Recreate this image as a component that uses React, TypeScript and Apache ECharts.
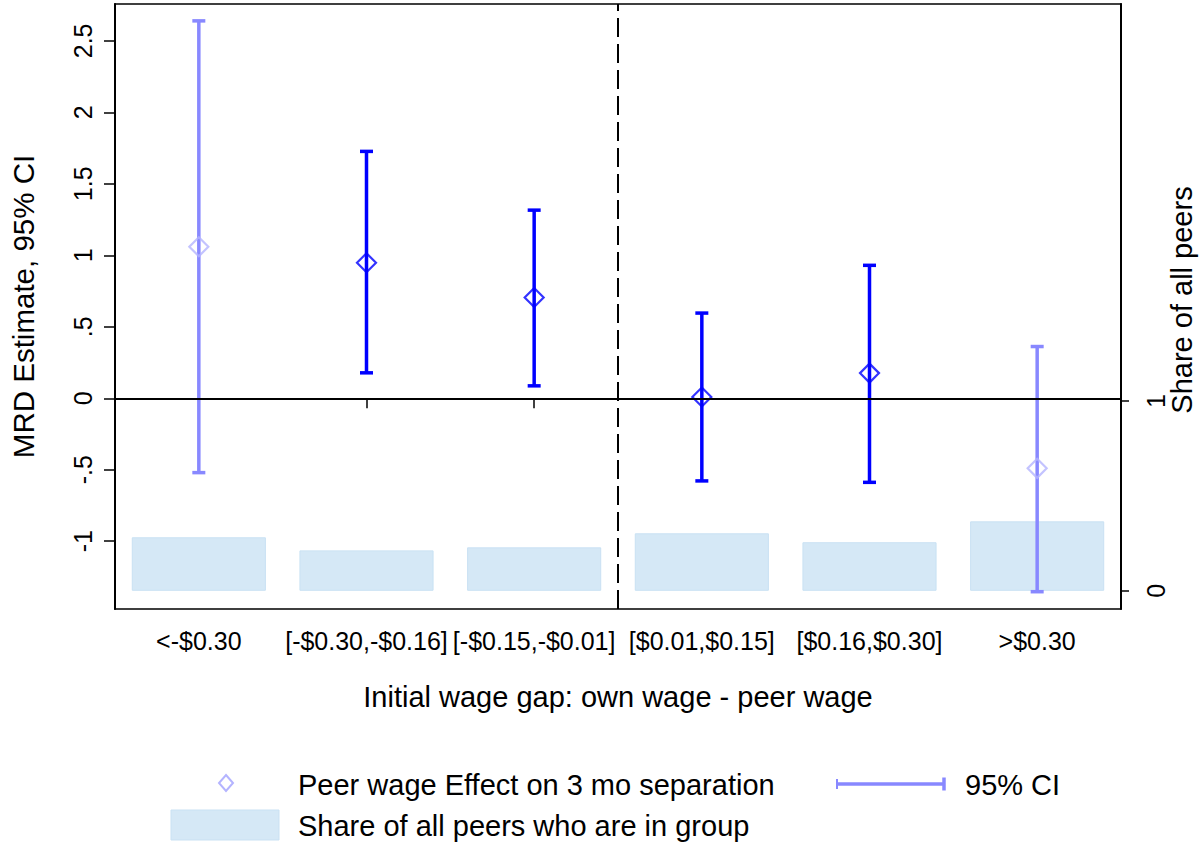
import React, { useEffect, useRef } from "react";
import * as echarts from "echarts";

const categories = ["<-$0.30", "[-$0.30,-$0.16]", "[-$0.15,-$0.01]", "[$0.01,$0.15]", "[$0.16,$0.30]", ">$0.30"];
const estimates = [1.06, 0.948, 0.705, 0.009, 0.176, -0.49];
const ciLow = [-0.52, 0.178, 0.087, -0.578, -0.588, -1.353];
const ciHigh = [2.64, 1.727, 1.316, 0.596, 0.93, 0.362];
const significant = [false, true, true, true, true, false];
const shares = [0.282, 0.213, 0.229, 0.303, 0.256, 0.366];
const leftTicks = [-1, -0.5, 0, 0.5, 1, 1.5, 2, 2.5];
const rightTicks = [0, 1];
const dividerPosition = [3];

const FONT = "'Liberation Sans', Arial, Helvetica, sans-serif";
const DARK = "#0000ff";
const LIGHT_LINE = "#8888ff";
const LIGHT_MARK = "#b4b4ff";
const BAR = "#d5e8f6";

const Y_MIN = -1.474;
const Y_MAX = 2.758;
const R_MIN = -0.096;
const R_MAX = 3.093;

function fmtLeft(v: number): string {
  if (v === 0) return "0";
  let s = String(v);
  s = s.replace(/^(-?)0\./, "$1.");
  return s;
}

export default function App() {
  const ref = useRef<HTMLDivElement>(null);
  useEffect(() => {
    if (!ref.current) return;
    const chart = echarts.init(ref.current, null, { renderer: "svg" });
    const ciData = categories.map((_, i) => [i, ciLow[i], ciHigh[i], significant[i] ? 1 : 0]);
    const estData = categories.map((_, i) => ({
      value: [i, estimates[i]],
      itemStyle: {
        color: "rgba(0,0,0,0)",
        borderColor: significant[i] ? DARK : LIGHT_MARK,
        borderWidth: 2.2,
      },
    }));
    const option: any = {
      animation: false,
      backgroundColor: "#ffffff",
      grid: {
        left: 113,
        right: 81,
        top: 4,
        bottom: 233,
        show: true,
        borderColor: "#000",
        borderWidth: 1.5,
        backgroundColor: "transparent",
      },
      xAxis: [
        {
          type: "category",
          data: categories,
          boundaryGap: true,
          axisLine: { show: true, lineStyle: { color: "#000", width: 2 } },
          axisTick: { show: true, alignWithLabel: true, length: 10, lineStyle: { color: "#000", width: 1.5 } },
          axisLabel: { interval: 0, fontSize: 25, color: "#000", fontFamily: FONT, margin: 19 },
          splitLine: { show: false },
          name: "Initial wage gap: own wage - peer wage",
          nameLocation: "middle",
          nameGap: 73,
          nameTextStyle: { fontSize: 29, color: "#000", fontFamily: FONT },
        },
        {
          type: "value",
          min: 0,
          max: 6,
          show: false,
        },
      ],
      yAxis: [
        {
          type: "value",
          position: "left",
          min: Y_MIN,
          max: Y_MAX,
          axisLine: { show: true, lineStyle: { color: "#000", width: 2 } },
          axisTick: { show: true, length: 11, customValues: leftTicks, lineStyle: { color: "#000", width: 1.5 } },
          axisLabel: {
            customValues: leftTicks,
            rotate: 90,
            fontSize: 25,
            color: "#000",
            fontFamily: FONT,
            margin: 20,
            formatter: (v: number) => fmtLeft(v),
          },
          splitLine: { show: false },
          name: "MRD Estimate, 95% CI",
          nameLocation: "middle",
          nameRotate: 90,
          nameGap: 77,
          nameTextStyle: { fontSize: 29.5, color: "#000", fontFamily: FONT },
        },
        {
          type: "value",
          position: "right",
          min: R_MIN,
          max: R_MAX,
          axisLine: { show: true, lineStyle: { color: "#000", width: 2 } },
          axisTick: { show: true, length: 8, customValues: rightTicks, lineStyle: { color: "#000", width: 1.5 } },
          axisLabel: {
            customValues: rightTicks,
            rotate: 90,
            fontSize: 25,
            color: "#000",
            fontFamily: FONT,
            margin: 22,
          },
          splitLine: { show: false },
        },
      ],
      series: [
        {
          type: "bar",
          yAxisIndex: 1,
          data: shares,
          barWidth: "80%",
          itemStyle: { color: BAR, borderColor: "#c9e1f3", borderWidth: 1 },
          z: 1,
        },
        {
          type: "line",
          xAxisIndex: 1,
          yAxisIndex: 0,
          data: [
            [dividerPosition[0], Y_MIN],
            [dividerPosition[0], Y_MAX],
          ],
          symbol: "none",
          lineStyle: { color: "#000", width: 2, type: [19, 7] },
          z: 2,
          silent: true,
        },
        {
          type: "custom",
          yAxisIndex: 0,
          data: ciData,
          z: 3,
          renderItem: (params: any, api: any) => {
            const x = api.value(0);
            const lo = api.coord([x, api.value(1)]);
            const hi = api.coord([x, api.value(2)]);
            const color = api.value(3) ? DARK : LIGHT_LINE;
            const half = 6.5;
            const style = { stroke: color, lineWidth: 3.5 };
            return {
              type: "group",
              children: [
                { type: "line", shape: { x1: lo[0], y1: lo[1], x2: hi[0], y2: hi[1] }, style },
                { type: "line", shape: { x1: lo[0] - half, y1: lo[1], x2: lo[0] + half, y2: lo[1] }, style },
                { type: "line", shape: { x1: hi[0] - half, y1: hi[1], x2: hi[0] + half, y2: hi[1] }, style },
              ],
            };
          },
        },
        {
          type: "scatter",
          yAxisIndex: 0,
          data: estData,
          symbol: "diamond",
          symbolSize: 19,
          z: 4,
          markLine: {
            silent: true,
            symbol: "none",
            label: { show: false },
            lineStyle: { color: "#000", width: 2, type: "solid" },
            data: [{ yAxis: 0 }],
          },
        },
      ],
      graphic: [
        {
          type: "text",
          x: 1182,
          y: 300,
          rotation: Math.PI / 2,
          style: { text: "Share of all peers", fontSize: 29, fill: "#000", fontFamily: FONT, align: "center", verticalAlign: "middle" },
        },
        {
          type: "polygon",
          shape: { points: [[226, 775], [233, 783], [226, 791], [219, 783]] },
          style: { fill: "none", stroke: LIGHT_MARK, lineWidth: 2 },
        },
        {
          type: "text",
          x: 298,
          y: 785,
          style: { text: "Peer wage Effect on 3 mo separation", fontSize: 29, fill: "#000", fontFamily: FONT, verticalAlign: "middle" },
        },
        {
          type: "line",
          shape: { x1: 837, y1: 784, x2: 944, y2: 784 },
          style: { stroke: LIGHT_LINE, lineWidth: 3.5 },
        },
        {
          type: "line",
          shape: { x1: 944, y1: 777.5, x2: 944, y2: 790.5 },
          style: { stroke: LIGHT_LINE, lineWidth: 3.5 },
        },
        {
          type: "line",
          shape: { x1: 837, y1: 779, x2: 837, y2: 789 },
          style: { stroke: LIGHT_LINE, lineWidth: 2 },
        },
        {
          type: "text",
          x: 965,
          y: 785,
          style: { text: "95% CI", fontSize: 29, fill: "#000", fontFamily: FONT, verticalAlign: "middle" },
        },
        {
          type: "rect",
          shape: { x: 171, y: 810, width: 108, height: 30 },
          style: { fill: BAR, stroke: "#c9e1f3", lineWidth: 1 },
        },
        {
          type: "text",
          x: 298,
          y: 826,
          style: { text: "Share of all peers who are in group", fontSize: 29, fill: "#000", fontFamily: FONT, verticalAlign: "middle" },
        },
      ],
    };
    chart.setOption(option);
    return () => chart.dispose();
  }, []);
  return <div ref={ref} style={{ position: "absolute", left: 0, top: 0, width: 1202, height: 842 }} />;
}
